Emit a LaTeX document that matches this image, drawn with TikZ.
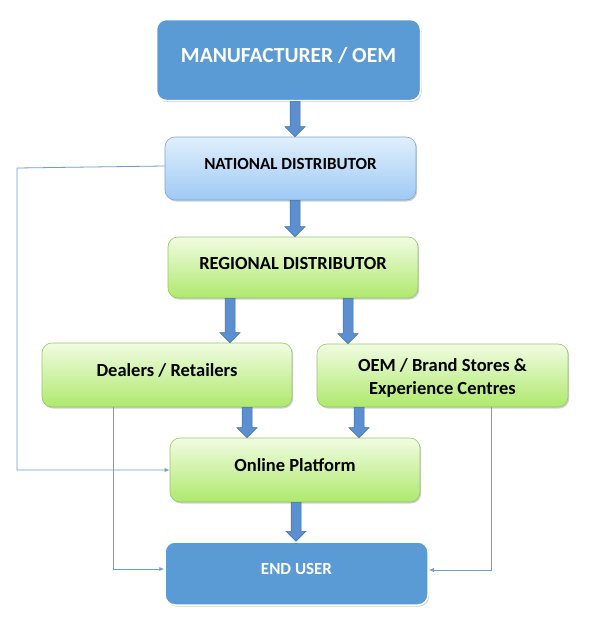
\documentclass[tikz,border=0pt]{standalone}
\usepackage{fontspec}
\setmainfont{Carlito}
\usetikzlibrary{shadows,calc,arrows.meta}
\definecolor{bblue}{HTML}{5B9BD5}
\definecolor{nbtop}{HTML}{E0EFFC}
\definecolor{nbbot}{HTML}{9ECAF5}
\definecolor{nbline}{HTML}{7FA6CC}
\definecolor{gtop}{HTML}{F1FCE2}
\definecolor{gbot}{HTML}{AEE96C}
\definecolor{gline}{HTML}{98C46A}
\definecolor{arfill}{HTML}{5B8FD0}
\definecolor{arline}{HTML}{41719C}
\definecolor{thin}{HTML}{6A9ED6}
\tikzset{
  boxbase/.style={rounded corners=10pt, inner sep=0pt,
    drop shadow={shadow xshift=1.2pt, shadow yshift=-1.5pt, opacity=0.3, fill=black!60}},
  bluebox/.style={boxbase, fill=bblue, draw=white, line width=1.5pt},
  natbox/.style={boxbase, top color=nbtop, bottom color=nbbot, draw=nbline, line width=0.6pt},
  greenbox/.style={boxbase, top color=gtop, bottom color=gbot, draw=gline, line width=0.6pt},
  wtext/.style={text=white, font=\bfseries},
  btext/.style={text=black, font=\bfseries},
  barrowstyle/.style={fill=arfill, draw=arline, line width=0.5pt, line join=miter},
  thinline/.style={draw=thin, line width=0.8pt, -{Latex[length=5pt,width=4pt]}}
}
\newcommand\barrow[3]{\draw[barrowstyle] let \p1=(#2.south), \p2=(#3.north) in
  (#1pt-5pt,\y1) -- (#1pt+5pt,\y1) -- (#1pt+5pt,\y2+10pt) -- (#1pt+10pt,\y2+10pt) --
  (#1pt,\y2) -- (#1pt-10pt,\y2+10pt) -- (#1pt-5pt,\y2+10pt) -- cycle;}
\begin{document}
\begin{tikzpicture}[x=1pt,y=-1pt]
\useasboundingbox[fill=white] (0,0) rectangle (590,624);
\node[bluebox, minimum width=264pt, minimum height=81pt,
  label={[wtext, font=\bfseries\fontsize{21.5}{26}\selectfont, yshift=5pt]center:MANUFACTURER / OEM}] (mfr) at (288.5,60) {};
\node[natbox, minimum width=251pt, minimum height=63pt,
  label={[btext, font=\bfseries\fontsize{17}{20}\selectfont, yshift=5pt]center:NATIONAL DISTRIBUTOR}] (nat) at (290.5,168.5) {};
\node[greenbox, minimum width=250pt, minimum height=61pt,
  label={[btext, font=\bfseries\fontsize{18.5}{22}\selectfont, yshift=4pt]center:REGIONAL DISTRIBUTOR}] (reg) at (293,267.5) {};
\node[greenbox, minimum width=250pt, minimum height=64pt,
  label={[btext, font=\bfseries\fontsize{18.5}{22}\selectfont, yshift=5pt]center:Dealers / Retailers}] (deal) at (167,375) {};
\node[greenbox, minimum width=251pt, minimum height=63pt,
  label={[btext, font=\bfseries\fontsize{18.5}{23}\selectfont, align=center, yshift=-2pt]center:OEM / Brand Stores \&\\Experience Centres}] (oem) at (442.5,375.5) {};
\node[greenbox, minimum width=250pt, minimum height=64pt,
  label={[btext, font=\bfseries\fontsize{18.5}{22}\selectfont, yshift=5pt]center:Online Platform}] (online) at (295,470) {};
\node[bluebox, minimum width=263pt, minimum height=63pt,
  label={[wtext, font=\bfseries\fontsize{17}{20}\selectfont, yshift=5pt]center:END USER}] (end) at (296.5,573.5) {};

\barrow{295}{mfr}{nat}
\barrow{295}{nat}{reg}
\barrow{230}{reg}{deal}
\barrow{348}{reg}{oem}
\barrow{247}{deal}{online}
\barrow{359}{oem}{online}
\barrow{296}{online}{end}

\coordinate (c1) at (17,168);
\coordinate (c2) at (17,470);
\draw[thinline] (nat.west |- 0,166) -- (c1) -- (c2) -- (online.west |- c2);
\coordinate (d1) at (113,569);
\draw[thinline] (deal.south -| d1) -- (d1) -- (end.west |- d1);
\coordinate (e1) at (491,570);
\draw[thinline] (oem.south -| e1) -- (e1) -- (end.east |- e1);
\end{tikzpicture}
\end{document}
